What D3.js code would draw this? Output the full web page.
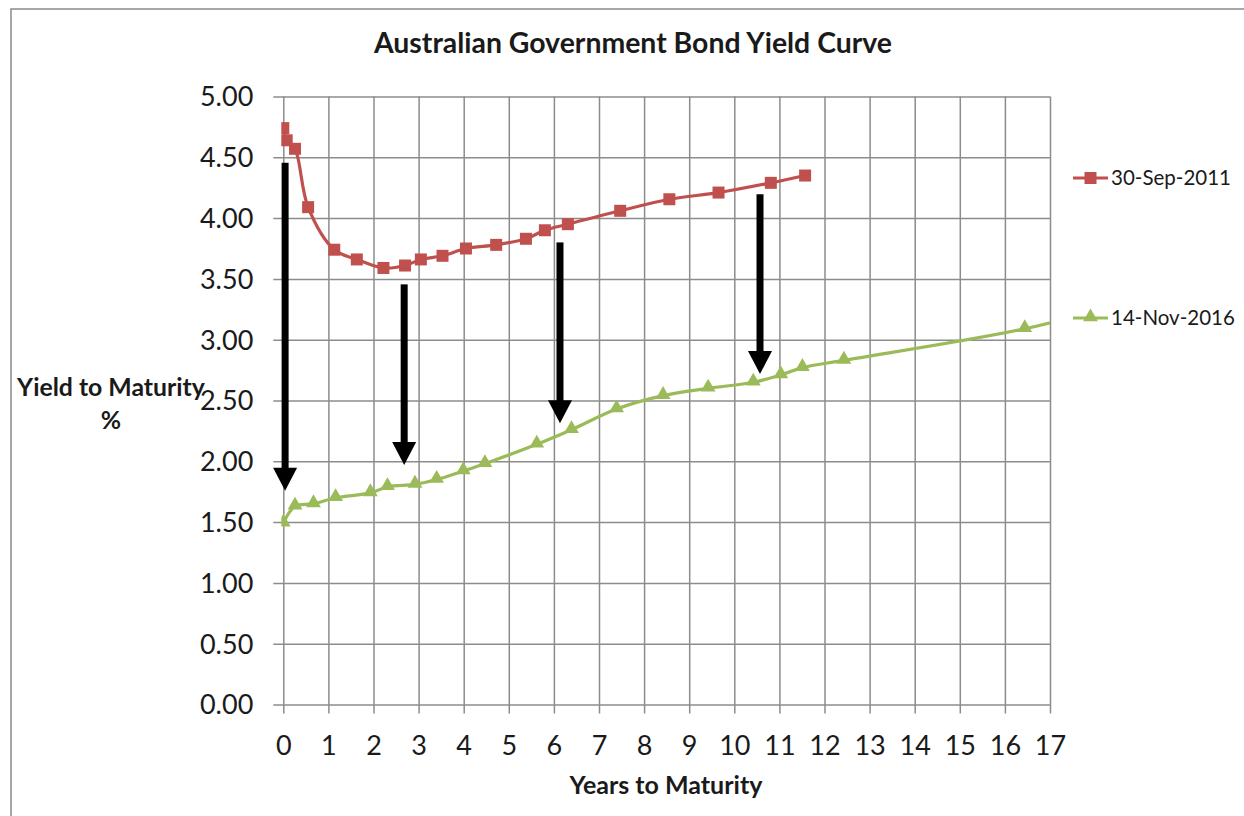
<!DOCTYPE html>
<html>
<head>
<meta charset="utf-8">
<script src="https://cdn.jsdelivr.net/npm/d3@7"></script>
<style>
  html, body { margin: 0; padding: 0; background: #ffffff; }
  svg { display: block; }
  text { font-family: Lato, "Open Sans", sans-serif; fill: #1a1a1a; }
</style>
</head>
<body>
<svg id="chart" width="1244" height="816"></svg>
<script>
// Yield curve on 30 September 2011
const sep2011Years  = [0.0, 0.075, 0.26, 0.55, 1.13, 1.63, 2.22, 2.70, 3.05, 3.53, 4.05, 4.72, 5.38, 5.80, 6.31, 7.47, 8.56, 9.65, 10.81, 11.57];
const sep2011Yields = [4.74, 4.64, 4.57, 4.09, 3.74, 3.66, 3.59, 3.61, 3.66, 3.69, 3.75, 3.78, 3.83, 3.90, 3.95, 4.06, 4.155, 4.21, 4.29, 4.35];

// Yield curve on 14 November 2016 (the last bond lies past the axis end)
const nov2016Years  = [0.0, 0.26, 0.67, 1.16, 1.93, 2.31, 2.92, 3.40, 3.99, 4.47, 5.62, 6.39, 7.39, 8.42, 9.42, 10.42, 11.03, 11.51, 12.43, 16.44, 18.58];
const nov2016Yields = [1.49, 1.63, 1.65, 1.70, 1.74, 1.79, 1.81, 1.85, 1.92, 1.98, 2.14, 2.26, 2.43, 2.54, 2.60, 2.65, 2.71, 2.77, 2.83, 3.09, 3.30];

const seriesNames = ["30-Sep-2011", "14-Nov-2016"];

// Tick values for both axes
const xTicks = [0, 1, 2, 3, 4, 5, 6, 7, 8, 9, 10, 11, 12, 13, 14, 15, 16, 17];
const yTicks = [0, 0.5, 1, 1.5, 2, 2.5, 3, 3.5, 4, 4.5, 5];

// Down-arrows showing the fall in yields (maturity, start yield, end yield)
const arrowYears = [0.04, 2.68, 6.135, 10.57];
const arrowFrom  = [4.455, 3.455, 3.80, 4.196];
const arrowTo    = [1.758, 1.969, 2.312, 2.718];

const svg = d3.select("#chart");
const margin = { left: 283.3, top: 96.5 };
const width = 766.7, height = 608;

const RED = "#C0504D", GREEN = "#9BBB59", GRID = "#8c8c8c";

// Outer chart frame
svg.append("rect")
  .attr("x", 11).attr("y", 9)
  .attr("width", 1300).attr("height", 900)
  .attr("fill", "#fff").attr("stroke", "#8a8a8a").attr("stroke-width", 1.5);

const g = svg.append("g").attr("transform", `translate(${margin.left},${margin.top})`);

const x = d3.scaleLinear().domain([0, 17]).range([0, width]);
const y = d3.scaleLinear().domain([0, 5]).range([height, 0]);

// X axis with vertical gridlines
const xAxis = g.append("g")
  .attr("transform", `translate(0,${height})`)
  .call(d3.axisBottom(x).tickValues(xTicks).tickFormat(d3.format("d")).tickSizeOuter(0));
xAxis.select(".domain").remove();
xAxis.selectAll(".tick line")
  .attr("y1", 9).attr("y2", -height)
  .attr("stroke", GRID).attr("stroke-width", 1.5);
xAxis.selectAll(".tick text")
  .attr("y", 41).attr("dy", "0.35em")
  .style("font-size", "27px").attr("fill", "#1a1a1a");

// Y axis with horizontal gridlines
const yAxis = g.append("g")
  .call(d3.axisLeft(y).tickValues(yTicks).tickFormat(d3.format(".2f")).tickSizeOuter(0));
yAxis.select(".domain").remove();
yAxis.selectAll(".tick line")
  .attr("x1", -10).attr("x2", width)
  .attr("stroke", GRID).attr("stroke-width", 1.5);
yAxis.selectAll(".tick text")
  .attr("x", -30).attr("dy", "0.35em")
  .style("font-size", "27px").attr("fill", "#1a1a1a");

// Clip the curves to the plot area
svg.append("defs").append("clipPath").attr("id", "plotClip")
  .append("rect").attr("x", -2).attr("y", -20).attr("width", width + 2).attr("height", height + 40);

const line = d3.line()
  .x(d => x(d[0])).y(d => y(d[1]))
  .curve(d3.curveCatmullRom.alpha(0.5));

const sepData = sep2011Years.map((v, i) => [v, sep2011Yields[i]]);
const novData = nov2016Years.map((v, i) => [v, nov2016Yields[i]]);

const plot = g.append("g").attr("clip-path", "url(#plotClip)");

plot.append("path").datum(sepData)
  .attr("d", line).attr("fill", "none")
  .attr("stroke", RED).attr("stroke-width", 3.2);
plot.append("path").datum(novData)
  .attr("d", line).attr("fill", "none")
  .attr("stroke", GREEN).attr("stroke-width", 3.2);

const sq = 12;
plot.selectAll("rect.sep").data(sepData).join("rect")
  .attr("class", "sep")
  .attr("x", d => x(d[0]) - sq / 2).attr("y", d => y(d[1]) - sq / 2)
  .attr("width", sq).attr("height", sq)
  .attr("fill", RED);

const tri = d3.symbol().type(d3.symbolTriangle).size(95);
plot.selectAll("path.nov").data(novData.filter(d => d[0] <= 17)).join("path")
  .attr("class", "nov")
  .attr("transform", d => `translate(${x(d[0])},${y(d[1]) - 1})`)
  .attr("d", tri)
  .attr("fill", GREEN);

// Black arrows
const arrows = g.append("g");
arrowYears.forEach((yr, i) => {
  const cx = x(yr), top = y(arrowFrom[i]), tip = y(arrowTo[i]);
  const headH = 23, headW = 24, shaft = 7;
  arrows.append("rect")
    .attr("x", cx - shaft / 2).attr("y", top)
    .attr("width", shaft).attr("height", tip - headH - top + 1)
    .attr("fill", "#000");
  arrows.append("path")
    .attr("d", `M${cx - headW / 2},${tip - headH}L${cx + headW / 2},${tip - headH}L${cx},${tip}Z`)
    .attr("fill", "#000");
});

// Title and axis titles
svg.append("text")
  .attr("x", 633).attr("y", 43).attr("dy", "0.35em")
  .attr("text-anchor", "middle")
  .style("font-size", "28.4px").style("font-weight", "bold")
  .text("Australian Government Bond Yield Curve");

svg.append("text")
  .attr("x", 666).attr("y", 785).attr("dy", "0.35em")
  .attr("text-anchor", "middle")
  .style("font-size", "25px").style("font-weight", "bold")
  .text("Years to Maturity");

svg.append("text")
  .attr("x", 111).attr("y", 387).attr("dy", "0.35em")
  .attr("text-anchor", "middle")
  .style("font-size", "24.8px").style("font-weight", "bold")
  .text("Yield to Maturity");
svg.append("text")
  .attr("x", 111).attr("y", 420).attr("dy", "0.35em")
  .attr("text-anchor", "middle")
  .style("font-size", "24.8px").style("font-weight", "bold")
  .text("%");

// Legend
const legendY = [178, 318];
const legendColors = [RED, GREEN];
seriesNames.forEach((name, i) => {
  const lg = svg.append("g").attr("transform", `translate(1073,${legendY[i]})`);
  lg.append("line").attr("x1", 0).attr("x2", 35).attr("y1", 0).attr("y2", 0)
    .attr("stroke", legendColors[i]).attr("stroke-width", 3.2);
  if (i === 0) {
    lg.append("rect").attr("x", 17.5 - sq / 2).attr("y", -sq / 2)
      .attr("width", sq).attr("height", sq).attr("fill", RED);
  } else {
    lg.append("path").attr("transform", "translate(17.5,-1)").attr("d", tri).attr("fill", GREEN);
  }
  lg.append("text").attr("x", 38).attr("y", 0).attr("dy", "0.35em")
    .style("font-size", "20.5px").text(name);
});
</script>
</body>
</html>
